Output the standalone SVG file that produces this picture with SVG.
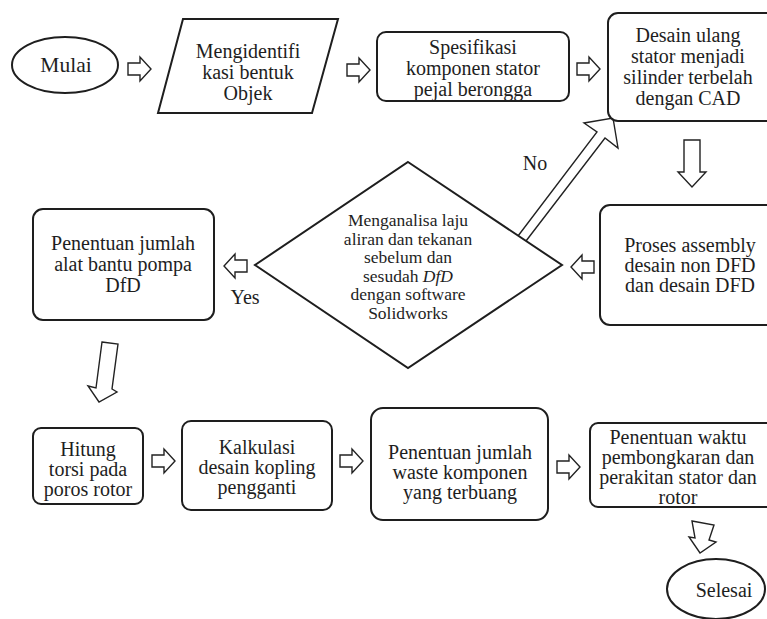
<svg xmlns="http://www.w3.org/2000/svg" width="767" height="619" viewBox="0 0 767 619" font-family="'Liberation Serif', 'Times New Roman', serif">
<style>
.s{fill:#fff;stroke:#1e1e1e;stroke-width:2}
.a{fill:#fff;stroke:#222;stroke-width:1.4;stroke-linejoin:miter}
text{font-family:'Liberation Serif','Times New Roman',serif;font-size:20px;fill:#1e1e1e;text-anchor:middle}
.d{font-size:17.5px}
.m{font-size:21.5px}
</style>
<defs>
<path id="ar" d="M0,-6 H12 V-12 L23,0 L12,12 V6 H0 Z"/>
<path id="al" d="M23,-6 H11 V-12 L0,0 L11,12 V6 H23 Z"/>
</defs>
<rect width="767" height="619" fill="#fff"/>
<g id="connectors">
<use href="#ar" class="a" x="128" y="69"/>
<use href="#ar" class="a" x="347" y="70"/>
<use href="#ar" class="a" x="577" y="69"/>
<path class="a" d="M684,140 H700 V172 H706 L692,187 L678,172 H684 Z"/>
<use href="#al" class="a" x="571" y="267"/>
<use href="#al" class="a" x="224" y="266"/>
<path class="a" d="M518,236 L597,132 L584,123 L613,118 L618,148 L605,138 L526,241"/>
<path class="a" d="M102,342 L118,344 L112,389 L117,392 L99,402 L88,386 L96,388 Z"/>
<use href="#ar" class="a" x="152" y="461"/>
<use href="#ar" class="a" x="340" y="461"/>
<use href="#ar" class="a" x="557" y="467"/>
<path class="a" d="M692,521 L714,525 L709,540 L716,542 L700,553 L689,537 L695,538 Z"/>
<text x="535" y="170">No</text>
<text x="245" y="304">Yes</text>
</g>
<g id="mulai">
<ellipse class="s" cx="65" cy="65" rx="53" ry="28"/>
<text class="m" x="66" y="72">Mulai</text>
</g>
<g id="identifikasi">
<polygon class="s" points="183,19 338,19 312,113 158,113"/>
<text x="248" y="58">Mengidentifi</text>
<text x="248" y="79">kasi bentuk</text>
<text x="248" y="100">Objek</text>
</g>
<g id="spesifikasi">
<rect class="s" x="377" y="32" width="192" height="69" rx="9"/>
<text x="473" y="54">Spesifikasi</text>
<text x="473" y="75">komponen stator</text>
<text x="473" y="96">pejal berongga</text>
</g>
<g id="desain">
<rect class="s" x="608" y="13" width="170" height="108" rx="10"/>
<text x="688" y="42">Desain ulang</text>
<text x="688" y="63">stator menjadi</text>
<text x="688" y="84">silinder terbelah</text>
<text x="688" y="105">dengan CAD</text>
</g>
<g id="assembly">
<rect class="s" x="600" y="205" width="180" height="120" rx="10"/>
<text x="690" y="252">Proses assembly</text>
<text x="690" y="272">desain non DFD</text>
<text x="690" y="292">dan desain DFD</text>
</g>
<g id="analisa">
<polygon class="s" points="408,162 562,265 408,368 255,265"/>
<text class="d" x="408" y="226">Menganalisa laju</text>
<text class="d" x="408" y="244.5">aliran dan tekanan</text>
<text class="d" x="408" y="263">sebelum dan</text>
<text class="d" x="408" y="281.5">sesudah <tspan font-style="italic">DfD</tspan></text>
<text class="d" x="408" y="300">dengan software</text>
<text class="d" x="408" y="318.5">Solidworks</text>
</g>
<g id="alatbantu">
<rect class="s" x="33" y="209" width="181" height="111" rx="10"/>
<text x="123" y="250">Penentuan jumlah</text>
<text x="123" y="271">alat bantu pompa</text>
<text x="123" y="292">DfD</text>
</g>
<g id="hitung">
<rect class="s" x="33" y="428" width="110" height="76" rx="8"/>
<text x="88" y="456">Hitung</text>
<text x="88" y="476">torsi pada</text>
<text x="88" y="496">poros rotor</text>
</g>
<g id="kalkulasi">
<rect class="s" x="182" y="421" width="150" height="89" rx="9"/>
<text x="257" y="454">Kalkulasi</text>
<text x="257" y="474">desain kopling</text>
<text x="257" y="494">pengganti</text>
</g>
<g id="waste">
<rect class="s" x="371" y="408" width="177" height="112" rx="12"/>
<text x="460" y="459">Penentuan jumlah</text>
<text x="460" y="479">waste komponen</text>
<text x="460" y="499">yang terbuang</text>
</g>
<g id="waktu">
<rect class="s" x="590" y="423" width="190" height="84" rx="8"/>
<text x="678" y="444">Penentuan waktu</text>
<text x="678" y="464">pembongkaran dan</text>
<text x="678" y="484">perakitan stator dan</text>
<text x="678" y="504">rotor</text>
</g>
<g id="selesai">
<ellipse class="s" cx="716" cy="589" rx="49" ry="30"/>
<text x="724" y="597">Selesai</text>
</g>
</svg>
